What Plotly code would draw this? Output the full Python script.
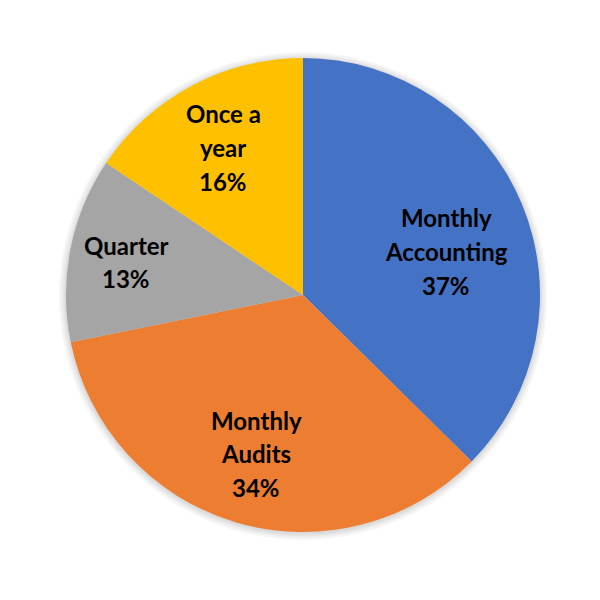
import plotly.graph_objects as go

categories = ["Monthly Accounting", "Monthly Audits", "Quarter", "Once a year"]
values = [37.4, 34.4, 12.6, 15.6]
colors = ["#4472C4", "#ED7D31", "#A5A5A5", "#FFC000"]
label_lines = [["Monthly", "Accounting"], ["Monthly", "Audits"], ["Quarter"], ["Once a", "year"]]
# label block top-line centre positions in pixels (x, y)
label_pos = [(446, 218), (256, 420), (126, 245), (223, 114)]

W = H = 600
CX, CY, R = 303, 295, 237
fig = go.Figure(go.Pie(
    labels=categories, values=values, sort=False, direction="clockwise", rotation=0,
    marker=dict(colors=colors, line=dict(width=0)),
    textinfo="none", hoverinfo="none", showlegend=False,
    domain=dict(x=[(CX - R) / W, (CX + R) / W], y=[1 - (CY + R) / H, 1 - (CY - R) / H]),
))

total = sum(values)
annotations = []
for lines, v, (px, py) in zip(label_lines, values, label_pos):
    all_lines = lines + [f"{round(100 * v / total)}%"]
    for i, t in enumerate(all_lines):
        annotations.append(dict(
            x=px / W, y=1 - (py + i * 33.5) / H, xref="paper", yref="paper",
            text=f"<b>{t}</b>", showarrow=False, xanchor="center", yanchor="middle",
            font=dict(family="Lato", size=24, color="#000000"),
        ))

shapes = []
for extra in [7, 5, 3, 1.5]:
    rr = R + extra
    shapes.append(dict(
        type="circle", xref="paper", yref="paper", layer="below",
        x0=(CX - rr) / W, x1=(CX + rr) / W, y0=1 - (CY + 1 + rr) / H, y1=1 - (CY + 1 - rr) / H,
        fillcolor="rgba(0,0,0,0.035)", line=dict(width=0),
    ))

fig.update_layout(
    width=W, height=H, margin=dict(l=0, r=0, t=0, b=0),
    paper_bgcolor="white", plot_bgcolor="white", annotations=annotations, shapes=shapes,
)
fig.write_html("out.html")
